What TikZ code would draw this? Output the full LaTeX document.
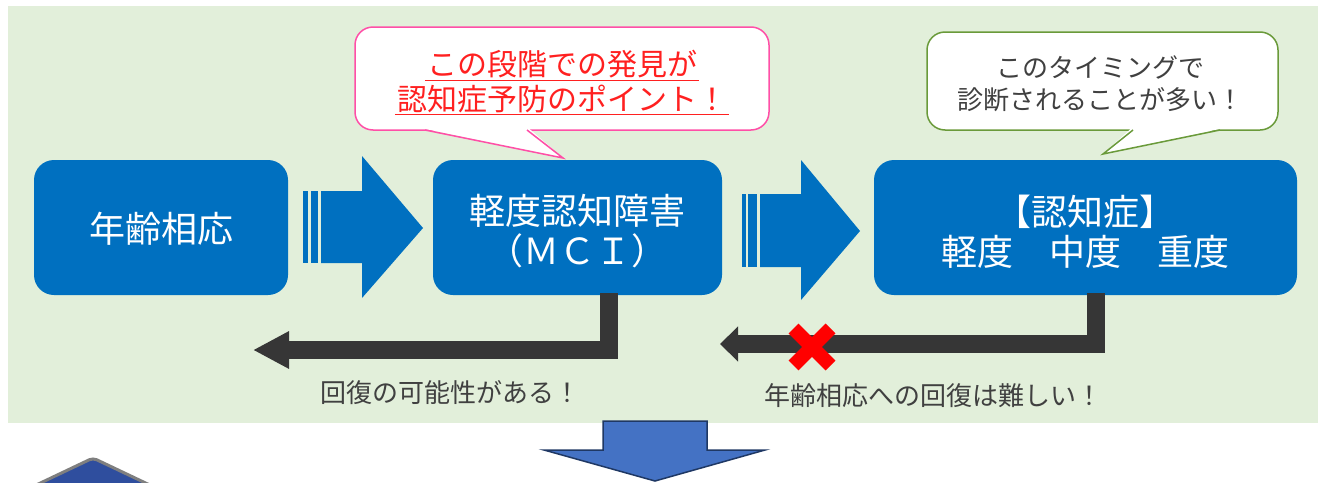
\documentclass[tikz,border=0pt]{standalone}
\usepackage{fontspec}
\setmainfont{Noto Sans CJK JP}
\usetikzlibrary{arrows.meta}
\definecolor{bg}{HTML}{E2EFDA}
\definecolor{boxblue}{HTML}{0070C0}
\definecolor{pinkc}{HTML}{FF4FA7}
\definecolor{redtxt}{HTML}{FF2020}
\definecolor{olivec}{HTML}{6A9A3A}
\definecolor{txtgray}{HTML}{404040}
\definecolor{darkarrow}{HTML}{363636}
\definecolor{downblue}{HTML}{4472C4}
\definecolor{navyc}{HTML}{1F3864}
\definecolor{shapeblue}{HTML}{2F4E9E}
\definecolor{shapegray}{HTML}{7F7F7F}
\begin{document}
\begin{tikzpicture}[x=1pt,y=-1pt,
  stage/.style={fill=boxblue, rounded corners=20pt, minimum height=135pt, inner sep=0pt},
  stagetext/.style={text=white, font=\fontsize{36}{40}\selectfont, align=center, inner sep=0pt},
  pinktext/.style={text=redtxt, font=\fontsize{30}{30}\selectfont, inner sep=0pt},
  graytext/.style={text=txtgray, font=\fontsize{26}{26}\selectfont, inner sep=0pt},
  backarrow/.style={draw=darkarrow, line width=18pt, line join=miter},
  blockarrow/.style={fill=boxblue},
  calloutline/.style={line width=1.5pt, line join=miter},
]
\useasboundingbox (0,0) rectangle (1325,482);
\fill[white] (0,0) rectangle (1325,482);
\fill[bg] (8,6) rectangle (1318,423);

% stage boxes
\node[stage, minimum width=254pt] (b1) at (161,227.5) {};
\node[stage, minimum width=289pt] (b2) at (577.5,227.5) {};
\node[stage, minimum width=423pt] (b3) at (1085.5,227.5) {};
\node[stagetext] (t1) at (161,229) {年齢相応};
\node[stagetext] (t2) at (577.5,231) {軽度認知障害\\（ＭＣＩ）};
\node[stagetext] (t3) at (1085,232) {【認知症】\\軽度　中度　重度};

% block arrows
\fill[blockarrow] (303,191) rectangle (308,263);
\fill[blockarrow] (311,191) rectangle (318,263);
\fill[blockarrow] (321,191) -- (362,191) -- (362,156) -- (423,228) -- (362,298) -- (362,263) -- (321,263) -- cycle;
\fill[blockarrow] (742,194) rectangle (746,267);
\fill[blockarrow] (748,194) rectangle (757,267);
\fill[blockarrow] (760,194) -- (801,194) -- (801,160) -- (860,231) -- (801,300) -- (801,267) -- (760,267) -- cycle;

% return arrows
\coordinate (r1) at (253,350);
\coordinate (r2) at (720,344);
\draw[backarrow, -{Triangle[length=36pt,width=35pt]}] ([xshift=31pt,yshift=2pt]b2.south) |- (r1);
\draw[backarrow, -{Triangle[length=18pt,width=34pt]}] ([xshift=10pt,yshift=2pt]b3.south) |- (r2);
\coordinate (xc) at (812,347);
\draw[red, line width=14pt] (xc) ++(-18.5,-18.5) -- ++(37,37);
\draw[red, line width=14pt] (xc) ++(-18.5,18.5) -- ++(37,-37);

% pink callout
\draw[pinkc, line width=1.5pt, fill=white, rounded corners=18pt] (355,27) rectangle (769,130);
\fill[white] (423,128.5) -- (563,158) -- (529,128.5) -- cycle;
\draw[pinkc, calloutline] (425,130) -- (563,158) -- (527,130);
\node[pinktext] (p1) at (562,64.5) {この段階での発見が};
\node[pinktext] (p2) at (562,98.5) {認知症予防のポイント！};
\draw[redtxt, line width=1.2pt] ([yshift=-2pt,xshift=-2pt]p1.south west) -- ([yshift=-2pt,xshift=2pt]p1.south east);
\draw[redtxt, line width=1.2pt] ([yshift=-2pt,xshift=-2pt]p2.south west) -- ([yshift=-2pt,xshift=2pt]p2.south east);

% green callout
\draw[olivec, line width=1.5pt, fill=white, rounded corners=18pt] (927,32) rectangle (1278,130);
\fill[white] (1131,128.5) -- (1103,154) -- (1222,128.5) -- cycle;
\draw[olivec, calloutline] (1133,130) -- (1103,154) -- (1220,130);
\node[graytext] (g1) at (1100,67) {このタイミングで};
\node[graytext] (g2) at (1100,100) {診断されることが多い！};

% bottom labels
\node[graytext] (l1) at (450,392.5) {回復の可能性がある！};
\node[graytext] (l2) at (933,396) {年齢相応への回復は難しい！};

% bottom shapes
\begin{scope}
\clip (0,0) rectangle (1325,482);
\draw[fill=downblue, draw=navyc, line width=1.5pt, line join=miter] (603,421) -- (707,421) -- (707,450) -- (765,450) -- (655,481) -- (544,450) -- (603,450) -- cycle;
\draw[fill=shapeblue, draw=shapegray, line width=3pt, rounded corners=4pt] (32,487) -- (93,458) -- (154,487);
\end{scope}
\end{tikzpicture}
\end{document}
